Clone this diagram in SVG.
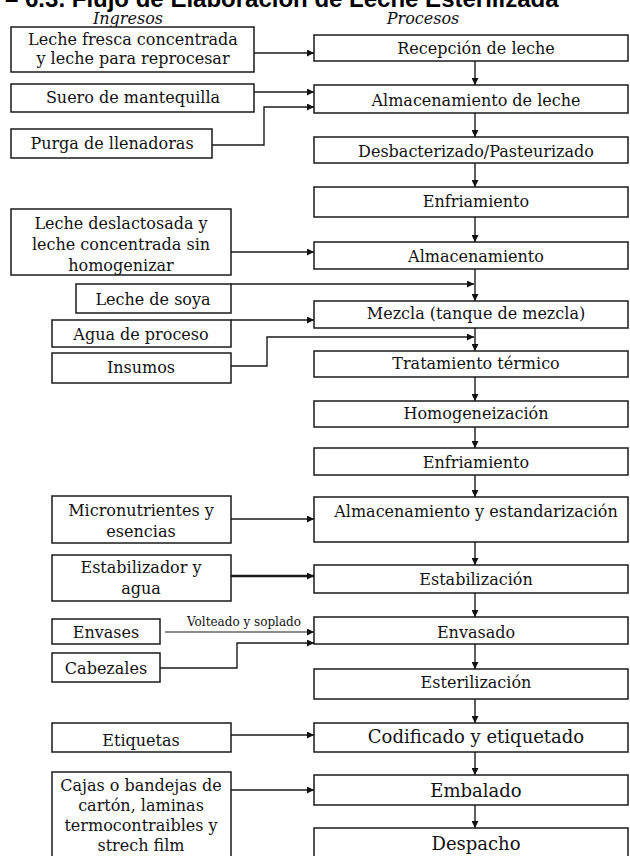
<svg xmlns="http://www.w3.org/2000/svg" width="630" height="856" viewBox="0 0 630 856">
<defs>
<marker id="ah" viewBox="0 0 10 10" refX="10" refY="5" markerWidth="7" markerHeight="7" markerUnits="userSpaceOnUse" orient="auto"><path d="M0,0 L10,5 L0,10 Z" fill="#111"/></marker>
<style>
.b{fill:#fff;stroke:#1a1a1a;stroke-width:1.5}
.t{font-family:"DejaVu Serif","Liberation Serif",serif;font-size:16px;fill:#111;text-anchor:middle}
.tl{font-size:18px}
.h{font-family:"DejaVu Serif","Liberation Serif",serif;font-style:italic;font-size:16px;fill:#111;text-anchor:middle}
.c{fill:none;stroke:#1a1a1a;stroke-width:1.4;marker-end:url(#ah)}
</style>
</defs>
<rect width="630" height="856" fill="#fff"/>
<text x="5" y="7" font-family="'Liberation Sans',Arial,sans-serif" font-weight="bold" font-size="24" fill="#000">– 6.3. Flujo de Elaboración de Leche Esterilizada</text>
<text class="h" x="128" y="24">Ingresos</text>
<text class="h" x="423" y="24">Procesos</text>

<g id="connectors">
<path class="c" d="M254,53 H314"/>
<path class="c" d="M254,92 H314"/>
<path class="c" d="M212,145 H264 V107 H314"/>
<path class="c" d="M475,61 V85"/>
<path class="c" d="M475,113 V137"/>
<path class="c" d="M475,163 V187"/>
<path class="c" d="M475,217 V242"/>
<path class="c" d="M231,252 H314"/>
<path class="c" d="M475,269 V301"/>
<path class="c" d="M231,284 H474"/>
<path class="c" d="M231,320 H314"/>
<path class="c" d="M475,328 V351"/>
<path class="c" d="M231,366 H267 V337 H474"/>
<path class="c" d="M475,377 V401"/>
<path class="c" d="M475,427 V448"/>
<path class="c" d="M475,475 V497"/>
<path class="c" d="M231,519 H314"/>
<path class="c" d="M475,542 V565"/>
<path class="c" d="M231,576 H314" style="stroke-width:2.4"/>
<path class="c" d="M475,593 V617"/>
<path class="c" d="M165,632 H314" style="stroke-width:1.1"/>
<text x="244" y="626" font-family="'DejaVu Serif','Liberation Serif',serif" font-size="12" fill="#111" text-anchor="middle">Volteado y soplado</text>
<path class="c" d="M160,668 H237 V643 H314"/>
<path class="c" d="M475,644 V669"/>
<path class="c" d="M475,699 V723"/>
<path class="c" d="M231,735 H314"/>
<path class="c" d="M475,752 V775"/>
<path class="c" d="M231,790 H314"/>
<path class="c" d="M475,805 V828"/>
</g>

<g id="p1"><rect class="b" x="314" y="35" width="314" height="26"/><text class="t" x="476" y="54">Recepción de leche</text></g>
<g id="p2"><rect class="b" x="314" y="85" width="314" height="28"/><text class="t" x="476" y="106">Almacenamiento de leche</text></g>
<g id="p3"><rect class="b" x="314" y="137" width="314" height="26"/><text class="t" x="476" y="157">Desbacterizado/Pasteurizado</text></g>
<g id="p4"><rect class="b" x="314" y="187" width="314" height="30"/><text class="t" x="476" y="207">Enfriamiento</text></g>
<g id="p5"><rect class="b" x="314" y="242" width="314" height="27"/><text class="t" x="476" y="262">Almacenamiento</text></g>
<g id="p6"><rect class="b" x="314" y="301" width="314" height="27"/><text class="t" x="476" y="319">Mezcla (tanque de mezcla)</text></g>
<g id="p7"><rect class="b" x="314" y="351" width="314" height="26"/><text class="t" x="476" y="369">Tratamiento térmico</text></g>
<g id="p8"><rect class="b" x="314" y="401" width="314" height="26"/><text class="t" x="476" y="419">Homogeneización</text></g>
<g id="p9"><rect class="b" x="314" y="448" width="314" height="27"/><text class="t" x="476" y="468">Enfriamiento</text></g>
<g id="p10"><rect class="b" x="314" y="497" width="314" height="45"/><text class="t" x="476" y="517">Almacenamiento y estandarización</text></g>
<g id="p11"><rect class="b" x="314" y="565" width="314" height="28"/><text class="t" x="476" y="585">Estabilización</text></g>
<g id="p12"><rect class="b" x="314" y="617" width="314" height="27"/><text class="t" x="476" y="638">Envasado</text></g>
<g id="p13"><rect class="b" x="314" y="669" width="314" height="30"/><text class="t" x="476" y="688">Esterilización</text></g>
<g id="p14"><rect class="b" x="314" y="723" width="314" height="29"/><text class="t tl" x="476" y="743">Codificado y etiquetado</text></g>
<g id="p15"><rect class="b" x="314" y="775" width="314" height="30"/><text class="t tl" x="476" y="797">Embalado</text></g>
<g id="p16"><rect class="b" x="314" y="828" width="314" height="40"/><text class="t tl" x="476" y="850">Despacho</text></g>

<g id="i1"><rect class="b" x="11" y="27" width="243" height="45"/><text class="t" x="133" y="45">Leche fresca concentrada</text><text class="t" x="133" y="64">y leche para reprocesar</text></g>
<g id="i2"><rect class="b" x="11" y="84" width="243" height="28"/><text class="t" x="133" y="103">Suero de mantequilla</text></g>
<g id="i3"><rect class="b" x="11" y="129" width="201" height="29"/><text class="t" x="112" y="149">Purga de llenadoras</text></g>
<g id="i4"><rect class="b" x="11" y="209" width="220" height="66"/><text class="t" x="121" y="229">Leche deslactosada y</text><text class="t" x="121" y="250">leche concentrada sin</text><text class="t" x="121" y="271">homogenizar</text></g>
<g id="i5"><rect class="b" x="76" y="284" width="155" height="29"/><text class="t" x="153" y="305">Leche de soya</text></g>
<g id="i6"><rect class="b" x="52" y="320" width="179" height="27"/><text class="t" x="141" y="340">Agua de proceso</text></g>
<g id="i7"><rect class="b" x="52" y="353" width="179" height="30"/><text class="t" x="141" y="373">Insumos</text></g>
<g id="i8"><rect class="b" x="52" y="496" width="179" height="47"/><text class="t" x="141" y="516">Micronutrientes y</text><text class="t" x="141" y="537">esencias</text></g>
<g id="i9"><rect class="b" x="52" y="555" width="179" height="46"/><text class="t" x="141" y="573">Estabilizador y</text><text class="t" x="141" y="594">agua</text></g>
<g id="i10"><rect class="b" x="52" y="619" width="108" height="25"/><text class="t" x="106" y="638">Envases</text></g>
<g id="i11"><rect class="b" x="52" y="653" width="108" height="29"/><text class="t" x="106" y="674">Cabezales</text></g>
<g id="i12"><rect class="b" x="52" y="723" width="179" height="29"/><text class="t" x="141" y="746">Etiquetas</text></g>
<g id="i13"><rect class="b" x="52" y="772" width="179" height="96"/><text class="t" x="141" y="791">Cajas o bandejas de</text><text class="t" x="141" y="811">cartón, laminas</text><text class="t" x="141" y="831">termocontraibles y</text><text class="t" x="141" y="851">strech film</text></g>
</svg>
